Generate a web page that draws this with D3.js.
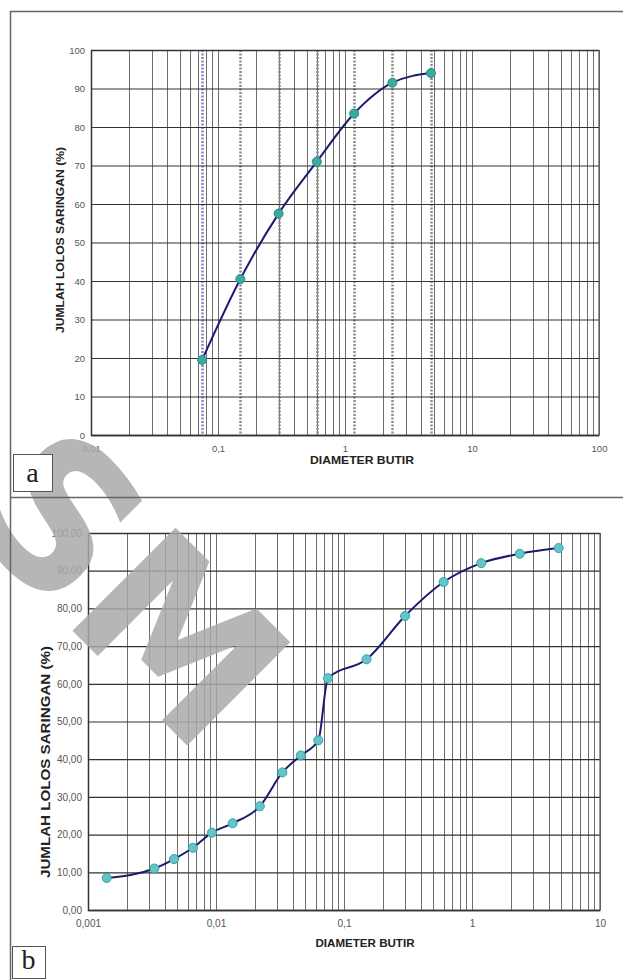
<!DOCTYPE html>
<html>
<head>
<meta charset="utf-8">
<script src="https://cdn.jsdelivr.net/npm/d3@7"></script>
<style>
  html, body { margin: 0; padding: 0; background: #fff; }
  svg { display: block; }
</style>
</head>
<body>
<svg id="chart" width="623" height="980"></svg>
<script>
// panel a: sieve analysis
const sieveA = [0.075, 0.15, 0.3, 0.6, 1.18, 2.36, 4.75];
const passA = [19.5, 40.5, 57.5, 71, 83.5, 91.5, 94];
const xTicksA = [0.01, 0.1, 1, 10, 100];
const xLabelsA = ['0,01', '0,1', '1', '10', '100'];
const yTicksA = [0, 10, 20, 30, 40, 50, 60, 70, 80, 90, 100];

// panel b: hydrometer + sieve
const diamB = [0.0014, 0.0033, 0.0047, 0.0066, 0.0093, 0.0135, 0.022, 0.033, 0.046, 0.063,
  0.075, 0.15, 0.3, 0.6, 1.18, 2.36, 4.75];
const passB = [8.5, 11, 13.5, 16.5, 20.5, 23, 27.5, 36.5, 41, 45, 61.5, 66.5, 78, 87, 92, 94.5, 96];
const xTicksB = [0.001, 0.01, 0.1, 1, 10];
const xLabelsB = ['0,001', '0,01', '0,1', '1', '10'];
const yTicksB = [0, 10, 20, 30, 40, 50, 60, 70, 80, 90, 100];

const svg = d3.select('#chart');
const FONT = 'Liberation Sans, Arial, sans-serif';

function minorValues(domain) {
  const out = [];
  const lo = Math.round(Math.log10(domain[0]));
  const hi = Math.round(Math.log10(domain[1]));
  for (let e = lo; e < hi; e++) {
    for (let m = 1; m <= 10; m++) out.push(m * Math.pow(10, e));
  }
  return out;
}

function drawPanel(opts) {
  const g = svg.append('g');
  const x = d3.scaleLog().domain(opts.xDomain).range([opts.left, opts.right]);
  const y = d3.scaleLinear().domain([0, 100]).range([opts.bottom, opts.top]);

  // vertical log grid
  g.append('g')
    .selectAll('line')
    .data(minorValues(opts.xDomain))
    .join('line')
    .attr('x1', (d) => Math.round(x(d)) + 0.5)
    .attr('x2', (d) => Math.round(x(d)) + 0.5)
    .attr('y1', opts.top)
    .attr('y2', opts.bottom)
    .attr('stroke', '#6e6e6e')
    .attr('stroke-width', 1);

  // dashed sieve lines (panel a only)
  if (opts.dashed) {
    g.append('g')
      .selectAll('line')
      .data(opts.dashed)
      .join('line')
      .attr('x1', (d) => Math.round(x(d)) + 0.5)
      .attr('x2', (d) => Math.round(x(d)) + 0.5)
      .attr('y1', opts.top)
      .attr('y2', opts.bottom)
      .attr('stroke', (d, i) => (i === 0 ? '#8a86c0' : '#8c8c8c'))
      .attr('stroke-width', 2.5)
      .attr('stroke-dasharray', '2,1.5');
  }

  // horizontal grid + y labels through axis
  const yAxis = d3.axisLeft(y)
    .tickValues(opts.yTicks)
    .tickSize(-(opts.right - opts.left))
    .tickPadding(6)
    .tickFormat(opts.yFormat);
  const ya = g.append('g')
    .attr('transform', `translate(${opts.left},0)`)
    .call(yAxis);
  ya.select('.domain').attr('stroke', '#333').attr('stroke-width', 1.5);
  ya.selectAll('.tick line').attr('stroke', '#333').attr('stroke-width', 1.2);
  ya.selectAll('.tick text')
    .attr('fill', '#555')
    .style('font-family', FONT)
    .style('font-size', opts.tickSize + 'px');

  const xAxis = d3.axisBottom(x)
    .tickValues(opts.xTicks)
    .tickSize(0)
    .tickPadding(10)
    .tickFormat((d, i) => opts.xLabels[i]);
  const xa = g.append('g')
    .attr('transform', `translate(0,${opts.bottom})`)
    .call(xAxis);
  xa.select('.domain').attr('stroke', '#333').attr('stroke-width', 1.5);
  xa.selectAll('.tick text')
    .attr('fill', '#555')
    .style('font-family', FONT)
    .style('font-size', opts.tickSize + 'px');

  // right border
  g.append('line')
    .attr('x1', opts.right).attr('x2', opts.right)
    .attr('y1', opts.top).attr('y2', opts.bottom)
    .attr('stroke', '#555').attr('stroke-width', 1.2);

  // curve
  const pts = opts.xs.map((d, i) => [d, opts.ys[i]]);
  g.append('path')
    .datum(pts)
    .attr('fill', 'none')
    .attr('stroke', '#1b1b6e')
    .attr('stroke-width', 2)
    .attr('d', d3.line()
      .x((d) => x(d[0]))
      .y((d) => y(d[1]))
      .curve(d3.curveMonotoneX));

  g.append('g')
    .selectAll('path')
    .data(pts)
    .join('path')
    .attr('transform', (d) => `translate(${x(d[0])},${y(d[1])})`)
    .attr('d', d3.symbol().type(d3.symbolCircle).size(64))
    .attr('fill', opts.markerFill)
    .attr('stroke', opts.markerStroke)
    .attr('stroke-width', 1);

  // titles
  g.append('text')
    .attr('x', opts.xTitle[0])
    .attr('y', opts.xTitle[1])
    .attr('text-anchor', 'middle')
    .attr('fill', '#222')
    .attr('textLength', opts.xTitle[2])
    .attr('lengthAdjust', 'spacingAndGlyphs')
    .style('font-family', FONT)
    .style('font-weight', 'bold')
    .style('font-size', opts.titleSize + 'px')
    .text('DIAMETER BUTIR');

  g.append('text')
    .attr('transform', `translate(${opts.yTitle[0]},${opts.yTitle[1]}) rotate(-90)`)
    .attr('text-anchor', 'middle')
    .attr('fill', '#222')
    .attr('textLength', opts.yTitle[2])
    .attr('lengthAdjust', 'spacingAndGlyphs')
    .style('font-family', FONT)
    .style('font-weight', 'bold')
    .style('font-size', opts.yTitleSize + 'px')
    .text('JUMLAH LOLOS SARINGAN (%)');
}

drawPanel({
  xDomain: [0.01, 100],
  left: 91, right: 599, top: 50, bottom: 435,
  xs: sieveA, ys: passA,
  xTicks: xTicksA, xLabels: xLabelsA,
  yTicks: yTicksA, yFormat: (d) => String(d),
  dashed: sieveA,
  markerFill: '#3aaaa0', markerStroke: '#2b8a86',
  xTitle: [362, 464, 104], yTitle: [64, 240, 186],
  titleSize: 11, yTitleSize: 10.5, tickSize: 9.5,
});

drawPanel({
  xDomain: [0.001, 10],
  left: 88, right: 600, top: 533, bottom: 910,
  xs: diamB, ys: passB,
  xTicks: xTicksB, xLabels: xLabelsB,
  yTicks: yTicksB, yFormat: (d) => d3.format('.2f')(d).replace('.', ','),
  dashed: null,
  markerFill: '#62c6c8', markerStroke: '#3b9ea2',
  xTitle: [365, 947, 99], yTitle: [50, 762, 232],
  titleSize: 11, yTitleSize: 12, tickSize: 10,
});

// watermark
svg.append('text')
  .attr('transform', 'translate(128,588) rotate(45)')
  .attr('text-anchor', 'middle')
  .attr('dominant-baseline', 'central')
  .attr('fill', '#a9a9a9')
  .attr('fill-opacity', 0.85)
  .style('font-family', 'DejaVu Sans, sans-serif')
  .style('font-weight', 'bold')
  .style('font-size', '200px')
  .text('SM');

// frame
const frame = svg.append('g').attr('stroke', '#666').attr('stroke-width', 1.5).attr('fill', 'none');
frame.append('line').attr('x1', 10.5).attr('x2', 10.5).attr('y1', 11).attr('y2', 980);
frame.append('line').attr('x1', 10).attr('x2', 623).attr('y1', 11.5).attr('y2', 11.5);
frame.append('line').attr('x1', 10).attr('x2', 623).attr('y1', 497.5).attr('y2', 497.5);

// panel labels
[['a', 13, 454, 39, 37], ['b', 12, 946, 33, 32]].forEach(([t, bx, by, bw, bh]) => {
  svg.append('rect')
    .attr('x', bx + 0.5).attr('y', by + 0.5)
    .attr('width', bw).attr('height', bh)
    .attr('fill', '#fff').attr('stroke', '#555').attr('stroke-width', 1);
  svg.append('text')
    .attr('x', bx + bw / 2).attr('y', by + bh - 9)
    .attr('text-anchor', 'middle')
    .attr('fill', '#222')
    .style('font-family', 'Liberation Serif, Times New Roman, serif')
    .style('font-size', '28px')
    .text(t);
});
</script>
</body>
</html>
